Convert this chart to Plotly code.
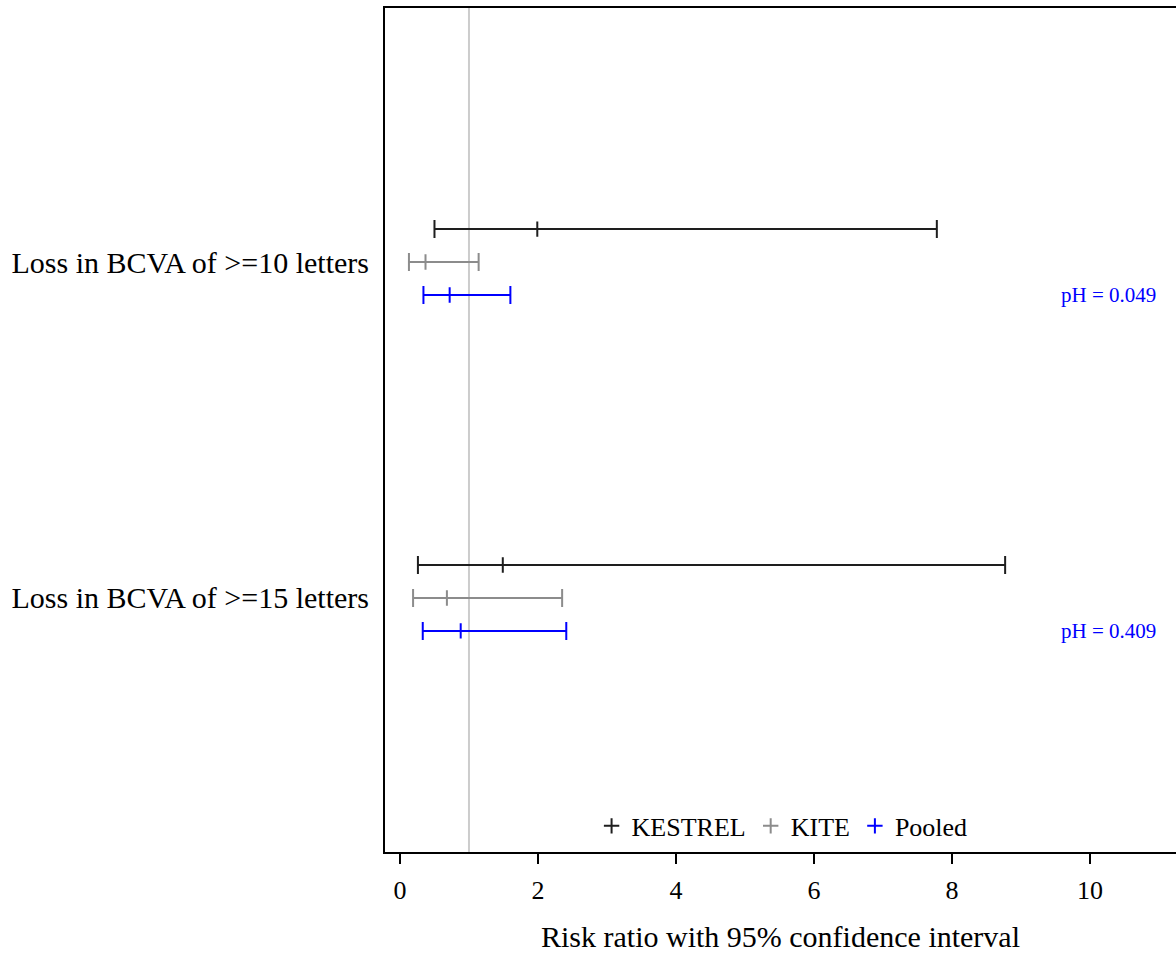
import plotly.graph_objects as go

outcomes = ["Loss in BCVA of >=10 letters", "Loss in BCVA of >=15 letters"]
studies = ["KESTREL", "KITE", "Pooled"]
rr = {"KESTREL": [1.99, 1.49], "KITE": [0.37, 0.68], "Pooled": [0.72, 0.88]}
lo = {"KESTREL": [0.50, 0.26], "KITE": [0.13, 0.19], "Pooled": [0.34, 0.33]}
hi = {"KESTREL": [7.78, 8.77], "KITE": [1.14, 2.35], "Pooled": [1.60, 2.41]}
ph_text = ["pH = 0.049", "pH = 0.409"]
colors = {"KESTREL": "#1e1e1e", "KITE": "#8c8c8c", "Pooled": "#0000ff"}
offsets = {"KESTREL": -0.098, "KITE": 0.0, "Pooled": 0.098}

FONT = "Liberation Serif"
fig = go.Figure()

fig.add_shape(type="line", xref="x", yref="paper", x0=1, x1=1, y0=0, y1=1,
              line=dict(color="#cccccc", width=2), layer="below")

for s in studies:
    ys = [i + 1 + offsets[s] for i in range(len(outcomes))]
    fig.add_trace(go.Scatter(
        x=rr[s], y=ys, mode="markers", name=s,
        marker=dict(symbol="cross-thin-open", size=11, color=colors[s],
                    line=dict(color=colors[s], width=2)),
        error_x=dict(type="data", symmetric=False,
                     array=[h - r for h, r in zip(hi[s], rr[s])],
                     arrayminus=[r - l for r, l in zip(rr[s], lo[s])],
                     color=colors[s], thickness=2, width=9),
    ))

for i, t in enumerate(ph_text):
    fig.add_annotation(x=9.55, y=i + 1 + offsets["Pooled"], xref="x", yref="y",
                       text=t, showarrow=False, xanchor="left", yanchor="middle",
                       font=dict(family=FONT, size=21, color="#0000ff"))

fig.update_layout(
    width=1176, height=955,
    margin=dict(l=385, r=0, t=8, b=103),
    plot_bgcolor="white", paper_bgcolor="white",
    font=dict(family=FONT, color="black"),
    showlegend=True,
    legend=dict(orientation="h", x=0.502, xanchor="center", y=0.003, yanchor="bottom",
                font=dict(family=FONT, size=26), bgcolor="rgba(0,0,0,0)",
                itemwidth=30, tracegroupgap=0),
    xaxis=dict(range=[-0.217, 11.246], tickvals=[0, 2, 4, 6, 8, 10],
               showgrid=False, zeroline=False, showline=True, linecolor="black",
               linewidth=2, mirror=True, ticks="outside", ticklen=10, tickwidth=2,
               tickcolor="black", tickfont=dict(family=FONT, size=26),
               ticklabelstandoff=4,
               title=dict(text="Risk ratio with 95% confidence interval",
                          font=dict(family=FONT, size=30), standoff=22)),
    yaxis=dict(range=[2.756, 0.244], tickvals=[1, 2], ticktext=outcomes,
               showgrid=False, zeroline=False, showline=True, linecolor="black",
               linewidth=2, ticks="", ticklabelstandoff=8,
               tickfont=dict(family=FONT, size=30)),
)

fig.write_html("out.html")
